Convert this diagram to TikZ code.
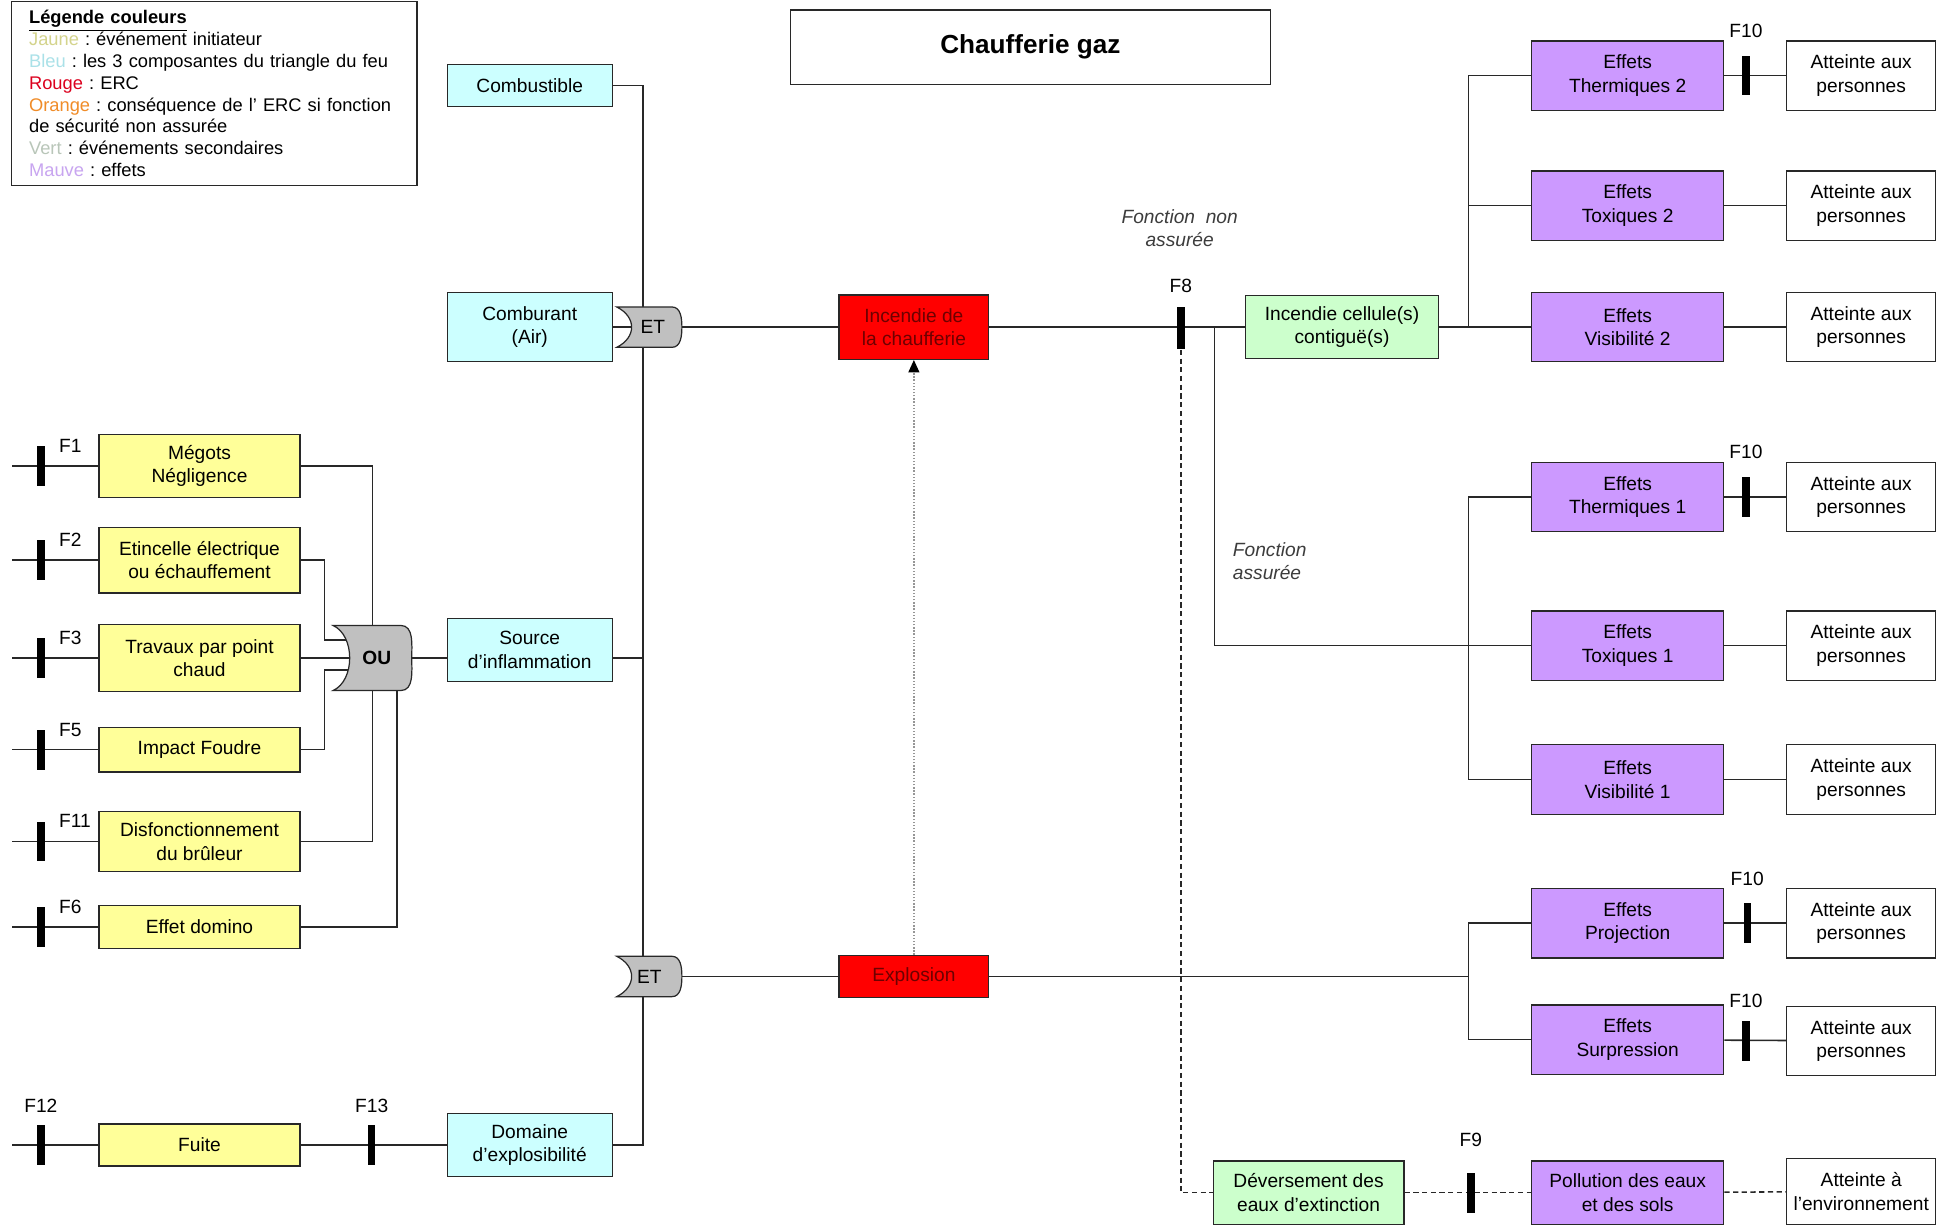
\documentclass[tikz,border=0pt]{standalone}
\usepackage{fontspec}
\setmainfont{Liberation Sans}
\frenchspacing
\usetikzlibrary{arrows.meta,backgrounds}
\newcommand\diagfont{\fontsize{11}{13.5}\selectfont}
\newcommand\legendfont{\fontsize{10.5}{12.5}\selectfont}
\newcommand\titlefont{\fontsize{15}{18}\selectfont\bfseries}
\newcommand\gateoutline[3]{\draw [gateline] (#1.north west) -- ([xshift=-#2]#1.north east) to[out=0,in=90] (#1.east) to[out=-90,in=0] ([xshift=-#2]#1.south east) -- (#1.south west) .. controls +(#3,-8) and +(#3,8) .. (#1.north west) -- cycle;}
\begin{document}
\begin{tikzpicture}[x=0.025cm,y=-0.025cm,
  box/.style={draw=linecolor,line width=0.7pt,align=center,inner sep=1pt,font=\diagfont},
  yellowbox/.style={box,fill=yellowfill,minimum width=4.05cm},
  bluebox/.style={box,fill=bluefill,minimum width=3.325cm},
  redbox/.style={box,fill=redfill,text=redtext,minimum width=3.025cm},
  greenbox/.style={box,fill=greenfill},
  mauvebox/.style={box,fill=mauvefill,minimum width=3.875cm,minimum height=1.4cm},
  targetbox/.style={box,fill=white,minimum width=3cm,minimum height=1.4cm},
  titlebox/.style={box,fill=white,minimum width=9.675cm,minimum height=1.5cm,font=\titlefont},
  legendbox/.style={box,fill=white,anchor=north west,align=left,text width=7.475cm,inner xsep=0.35cm,inner ysep=5pt,font=\legendfont},
  gate/.style={inner sep=0,font=\diagfont},
  gateline/.style={draw=linecolor,line width=0.7pt,fill=gatefill},
  wire/.style={draw=linecolor,line width=0.9pt},
  dashwire/.style={wire,dash pattern=on 3pt off 2pt},
  dotarrow/.style={draw=arrowgray,line width=0.8pt,densely dotted,-{Triangle[length=0.25cm,width=0.22cm,color=black]}},
  fbar/.style={fill=black,inner sep=0,minimum width=0.15cm,minimum height=0.8cm},
  ftag/.style={font=\diagfont,inner sep=1pt},
  note/.style={font=\diagfont\itshape,text=notecolor,align=center}]
\definecolor{linecolor}{RGB}{40,40,40}
\definecolor{yellowfill}{RGB}{255,255,153}
\definecolor{bluefill}{RGB}{204,255,255}
\definecolor{redfill}{RGB}{255,0,0}
\definecolor{redtext}{RGB}{110,0,0}
\definecolor{greenfill}{RGB}{204,255,204}
\definecolor{mauvefill}{RGB}{204,153,255}
\definecolor{gatefill}{RGB}{192,192,192}
\definecolor{arrowgray}{RGB}{150,150,150}
\definecolor{notecolor}{RGB}{60,60,60}
\definecolor{jaunetxt}{RGB}{212,212,140}
\definecolor{bleutxt}{RGB}{170,225,232}
\definecolor{rougetxt}{RGB}{220,0,30}
\definecolor{orangetxt}{RGB}{240,140,40}
\definecolor{verttxt}{RGB}{185,198,185}
\definecolor{mauvetxt}{RGB}{200,165,240}
\useasboundingbox (0,0) rectangle (1568,989);
\node [legendbox] (legende) at (9,1) {\underline{\textbf{Légende couleurs}}\\
{\color{jaunetxt}Jaune} : événement initiateur\\
{\color{bleutxt}Bleu} : les 3 composantes du triangle du feu\\
{\color{rougetxt}Rouge} : ERC\\
{\color{orangetxt}Orange} : conséquence de l' ERC si fonction\\
de sécurité non assurée\\
{\color{verttxt}Vert} : événements secondaires\\
{\color{mauvetxt}Mauve} : effets};
\node [titlebox] (titre) at (831.5,38) {Chaufferie gaz};
\node [bluebox,minimum height=0.85cm] (combustible) at (427.5,69) {Combustible};
\node [bluebox,minimum height=1.4cm] (comburant) at (427.5,264) {Comburant\\(Air)};
\node [bluebox,minimum height=1.275cm] (source) at (427.5,524.5) {Source\\d’inflammation};
\node [bluebox,minimum height=1.275cm] (domaine) at (427.5,924) {Domaine\\d’explosibilité};
\node [yellowbox,minimum height=1.275cm] (megots) at (161,376) {Mégots\\Négligence};
\node [yellowbox,minimum height=1.325cm] (etincelle) at (161,452) {Etincelle électrique\\ou échauffement};
\node [yellowbox,minimum height=1.35cm] (travaux) at (161,531) {Travaux par point\\chaud};
\node [yellowbox,minimum height=0.9cm] (foudre) at (161,605) {Impact Foudre};
\node [yellowbox,minimum height=1.2cm] (bruleur) at (161,679) {Disfonctionnement\\du brûleur};
\node [yellowbox,minimum height=0.875cm] (domino) at (161,748) {Effet domino};
\node [yellowbox,minimum height=0.85cm] (fuite) at (161,924) {Fuite};
\node [gate,minimum width=1.3cm,minimum height=0.8cm] (et1) at (524,264) {\hspace{4pt}ET};
\node [gate,minimum width=1.3cm,minimum height=0.8cm] (et2) at (524,788) {ET};
\node [gate,font=\diagfont\bfseries,minimum width=1.575cm,minimum height=1.3cm] (ou) at (300.5,531) {\hspace{5pt}OU};
\node [redbox,minimum height=1.3cm] (incendie) at (737.5,264) {Incendie de\\la chaufferie};
\node [redbox,minimum height=0.85cm] (explosion) at (737.5,788) {Explosion};
\node [greenbox,minimum width=3.9cm,minimum height=1.275cm] (cellule) at (1083,264) {Incendie cellule(s)\\contiguë(s)};
\node [greenbox,minimum width=3.85cm,minimum height=1.275cm] (deversement) at (1056,962.5) {Déversement des\\eaux d’extinction};
\node [mauvebox] (thermiques2) at (1313.5,61) {Effets\\Thermiques 2};
\node [mauvebox] (toxiques2) at (1313.5,166) {Effets\\Toxiques 2};
\node [mauvebox] (visibilite2) at (1313.5,264) {Effets\\Visibilité 2};
\node [mauvebox] (thermiques1) at (1313.5,401) {Effets\\Thermiques 1};
\node [mauvebox] (toxiques1) at (1313.5,521) {Effets\\Toxiques 1};
\node [mauvebox] (visibilite1) at (1313.5,629) {Effets\\Visibilité 1};
\node [mauvebox] (projection) at (1313.5,745) {Effets\\Projection};
\node [mauvebox] (surpression) at (1313.5,839) {Effets\\Surpression};
\node [mauvebox,minimum height=1.275cm] (pollution) at (1313.5,962.5) {Pollution des eaux\\et des sols};
\node [targetbox] (atteinte1) at (1502,61) {Atteinte aux\\personnes};
\node [targetbox] (atteinte2) at (1502,166) {Atteinte aux\\personnes};
\node [targetbox] (atteinte3) at (1502,264) {Atteinte aux\\personnes};
\node [targetbox] (atteinte4) at (1502,401) {Atteinte aux\\personnes};
\node [targetbox] (atteinte5) at (1502,521) {Atteinte aux\\personnes};
\node [targetbox] (atteinte6) at (1502,629) {Atteinte aux\\personnes};
\node [targetbox] (atteinte7) at (1502,745) {Atteinte aux\\personnes};
\node [targetbox] (atteinte8) at (1502,840) {Atteinte aux\\personnes};
\node [targetbox,minimum height=1.325cm] (environnement) at (1502,961.5) {Atteinte à\\l’environnement};
\node [fbar,label={[ftag,anchor=west,xshift=7pt]north east:F1}] (f1) at (33,376) {};
\node [fbar,label={[ftag,anchor=west,xshift=7pt]north east:F2}] (f2) at (33,452) {};
\node [fbar,label={[ftag,anchor=west,xshift=7pt]north east:F3}] (f3) at (33,531) {};
\node [fbar,label={[ftag,anchor=west,xshift=7pt]north east:F5}] (f5) at (33,605) {};
\node [fbar,label={[ftag,anchor=west,xshift=7pt]north east:F11}] (f11) at (33,679) {};
\node [fbar,label={[ftag,anchor=west,xshift=7pt]north east:F6}] (f6) at (33,748) {};
\node [fbar,label={[ftag,label distance=6pt]above:F12}] (f12) at (33,924) {};
\node [fbar,label={[ftag,label distance=6pt]above:F13}] (f13) at (300,924) {};
\node [fbar,minimum height=0.85cm,label={[ftag,label distance=7pt]above:F8}] (f8) at (953,265) {};
\node [fbar,label={[ftag,label distance=14pt]above:F9}] (f9) at (1187,963) {};
\node [fbar,label={[ftag,label distance=9pt]above:F10}] (f10a) at (1409,61) {};
\node [fbar,label={[ftag,label distance=9pt]above:F10}] (f10b) at (1409,401) {};
\node [fbar,label={[ftag,label distance=9pt]above:F10}] (f10c) at (1410,745) {};
\node [fbar,label={[ftag,label distance=6pt]above:F10}] (f10d) at (1409,840) {};
\node [note] (nonassuree) at (952,184) {Fonction~~non\\assurée};
\node [note,align=left,anchor=west] (assuree) at (990,453) {Fonction\\assurée};
\coordinate (f1in) at (10,376);
\coordinate (f2in) at (10,452);
\coordinate (f3in) at (10,531);
\coordinate (f5in) at (10,605);
\coordinate (f11in) at (10,679);
\coordinate (f6in) at (10,748);
\coordinate (f12in) at (10,924);
\coordinate (trunk) at (519,69);
\coordinate (oupin1) at (262,516.5);
\coordinate (oupin2) at (262,540.5);
\coordinate (assure) at (980,264);
\coordinate (fourche2) at (1185,264);
\coordinate (fourche1) at (1185,521);
\coordinate (fourche3) at (1185,788);
\begin{scope}[on background layer]
\draw (f1in) [wire] -- (megots);
\draw (f2in) [wire] -- (etincelle);
\draw (f3in) [wire] -- (travaux);
\draw (f5in) [wire] -- (foudre);
\draw (f11in) [wire] -- (bruleur);
\draw (f6in) [wire] -- (domino);
\draw (f12in) [wire] -- (fuite);
\draw (fuite) [wire] -- (domaine);
\draw (megots) [wire] -| (ou.north);
\draw (etincelle) [wire] -| (oupin1) -- (oupin1 -| ou);
\draw (travaux) [wire] -- (ou.center);
\draw (foudre) [wire] -| (oupin2) -- (oupin2 -| ou);
\draw (bruleur) [wire] -| (ou.south);
\draw (domino) [wire] -| ([xshift=0.5cm]ou.south);
\draw (ou.center) [wire] -- (ou -| source.west);
\draw (source.east |- ou) [wire] -- (trunk |- ou);
\draw (combustible) [wire] -| (trunk |- domaine) -- (domaine);
\draw (comburant) [wire] -- (et1.center);
\draw (et1.center) [wire] -- (incendie);
\draw (et2.center) [wire] -- (explosion);
\draw (explosion) [dotarrow] -- (incendie);
\draw (incendie) [wire] -- (cellule);
\draw (f8.south) [dashwire] |- (deversement);
\draw (deversement) [dashwire] -- (pollution);
\draw (pollution) [dashwire] -- (environnement);
\draw (assure) [wire] |- (toxiques1);
\draw (cellule) [wire] -- (visibilite2);
\draw (thermiques2) [wire] -| (fourche2);
\draw (toxiques2) [wire] -- (toxiques2 -| fourche2);
\draw (thermiques1) [wire] -| (fourche1 |- visibilite1) -- (visibilite1);
\draw (explosion) [wire] -- (fourche3);
\draw (projection) [wire] -| (fourche3 |- surpression) -- (surpression);
\draw (thermiques2) [wire] -- (atteinte1);
\draw (toxiques2) [wire] -- (atteinte2);
\draw (visibilite2) [wire] -- (atteinte3);
\draw (thermiques1) [wire] -- (atteinte4);
\draw (toxiques1) [wire] -- (atteinte5);
\draw (visibilite1) [wire] -- (atteinte6);
\draw (projection) [wire] -- (atteinte7);
\draw (surpression) [wire] -- (atteinte8);
\gateoutline{et1}{0.2cm}{16}
\gateoutline{et2}{0.2cm}{16}
\gateoutline{ou}{0.225cm}{18}
\end{scope}
\end{tikzpicture}
\end{document}
